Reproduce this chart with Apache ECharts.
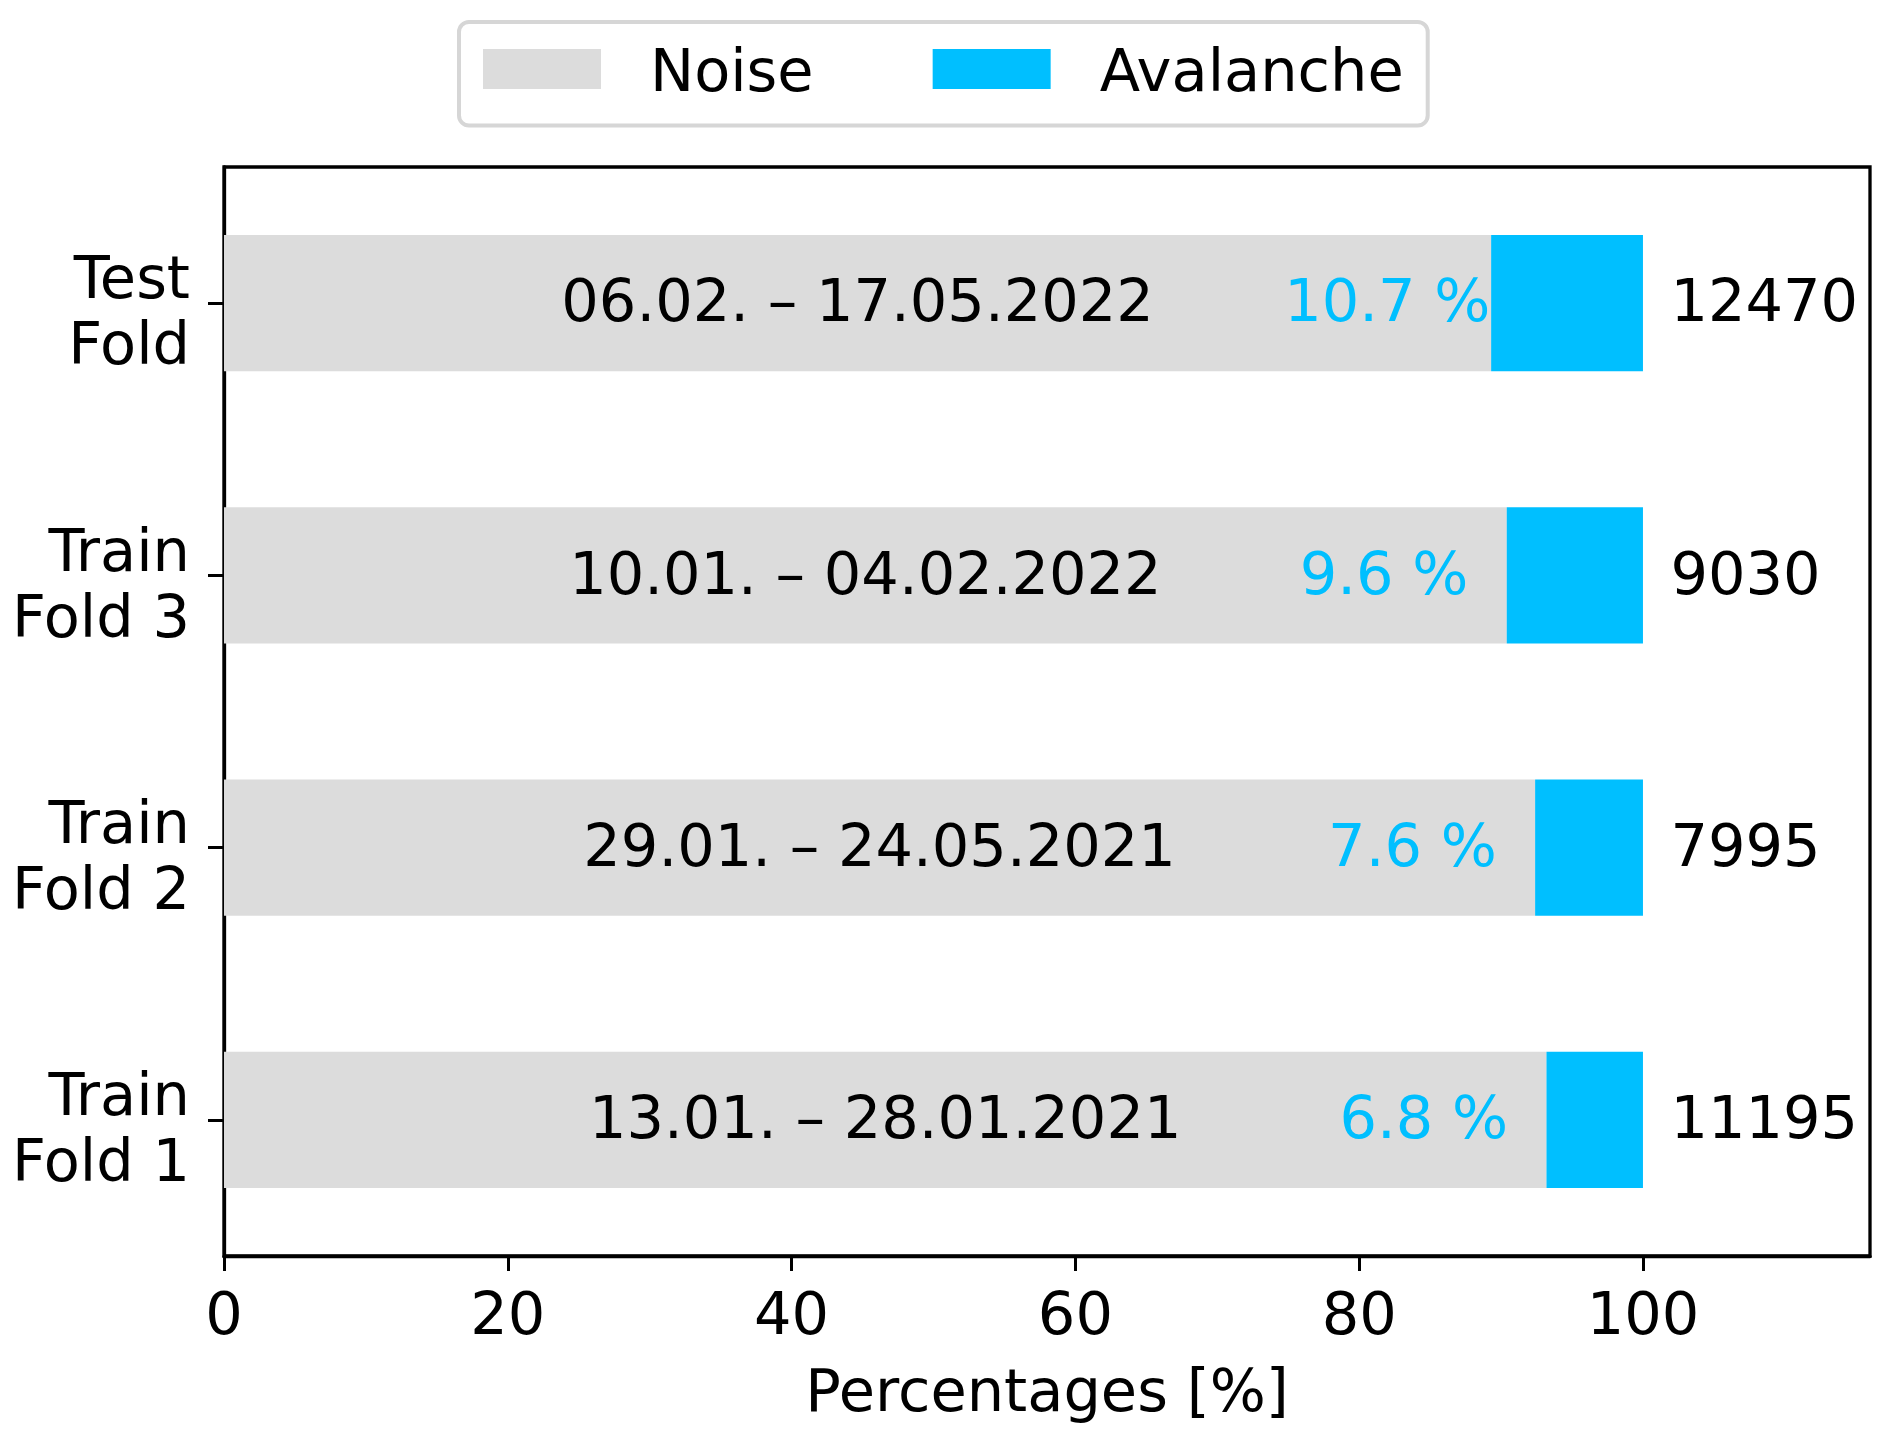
<!DOCTYPE html>
<html>
<head>
<meta charset="utf-8">
<script src="https://cdn.jsdelivr.net/npm/echarts@6/dist/echarts.min.js"></script>
<style>html,body{margin:0;padding:0;background:#fff;}#c{width:1892px;height:1444px;}</style>
</head>
<body>
<div id="c"></div>
<script>
const categories = ['Train\nFold 1', 'Train\nFold 2', 'Train\nFold 3', 'Test\nFold'];
const noise = [93.2, 92.4, 90.4, 89.3];
const avalanche = [6.8, 7.6, 9.6, 10.7];
const dateRanges = ['13.01. – 28.01.2021', '29.01. – 24.05.2021', '10.01. – 04.02.2022', '06.02. – 17.05.2022'];
const totals = [11195, 7995, 9030, 12470];
const xTicks = [0, 20, 40, 60, 80, 100];

const FONT = 'DejaVu Sans';
const FS = 59;
const chart = echarts.init(document.getElementById('c'), null, {renderer: 'canvas'});
chart.setOption({
  animation: false,
  textStyle: {fontFamily: FONT},
  legend: {
    data: ['Noise', 'Avalanche'],
    left: 459, top: 22,
    orient: 'horizontal',
    itemWidth: 118, itemHeight: 40, itemGap: 119,
    icon: 'rect',
    padding: [12, 24, 20, 24],
    borderColor: '#d6d6d6', borderWidth: 4, borderRadius: 10,
    backgroundColor: '#fff',
    formatter: name => '{s|}\n{t|' + name + '}',
    textStyle: {
      fontFamily: FONT, fontSize: FS, color: '#000', padding: [0, 0, 0, 44],
      rich: {
        s: {lineHeight: 14, fontSize: 10},
        t: {fontFamily: FONT, fontSize: FS, color: '#000', lineHeight: 60}
      }
    }
  },
  grid: {left: 224, right: 22, top: 167, bottom: 188, show: true, borderColor: '#000', borderWidth: 3.3, containLabel: false},
  xAxis: {
    type: 'value', min: 0, max: 116,
    name: 'Percentages [%]', nameLocation: 'middle', nameGap: 110,
    nameTextStyle: {fontFamily: FONT, fontSize: FS, color: '#000'},
    axisLine: {show: true, lineStyle: {color: '#000', width: 3.3}},
    axisTick: {show: true, length: 15, lineStyle: {color: '#000', width: 3}, customValues: xTicks},
    axisLabel: {fontFamily: FONT, fontSize: FS, color: '#000', margin: 33, customValues: xTicks},
    splitLine: {show: false}
  },
  yAxis: {
    type: 'category', data: categories,
    axisLine: {show: true, lineStyle: {color: '#000', width: 3.3}},
    axisTick: {show: true, alignWithLabel: true, length: 16, lineStyle: {color: '#000', width: 3}},
    axisLabel: {
      color: '#000', align: 'right', margin: 34,
      formatter: v => '{s|}\n' + v.split('\n').map(s => '{a|' + s + '}').join('\n'),
      rich: {
        s: {lineHeight: 26, fontSize: 10},
        a: {fontFamily: FONT, fontSize: FS, color: '#000', lineHeight: 66, align: 'right'}
      }
    },
    splitLine: {show: false}
  },
  series: [
    {
      name: 'Noise', type: 'bar', stack: 'a', barWidth: '50%', data: noise,
      itemStyle: {color: '#dcdcdc'},
      label: {show: true, position: 'inside', offset: [0, 3], fontFamily: FONT, fontSize: FS, color: '#000',
        formatter: p => dateRanges[p.dataIndex]}
    },
    {
      name: 'Avalanche', type: 'bar', stack: 'a', barWidth: '50%', data: avalanche,
      itemStyle: {color: '#00bfff'},
      label: {show: true, position: [-207, '50%'], offset: [0, 3], align: 'left', verticalAlign: 'middle',
        fontFamily: FONT, fontSize: FS, color: '#00bfff',
        formatter: p => p.value.toFixed(1) + ' %'}
    },
    {
      name: 'Total', type: 'scatter', symbolSize: 1,
      data: categories.map((c, i) => [noise[i] + avalanche[i], i]),
      itemStyle: {color: 'rgba(0,0,0,0)', opacity: 1},
      label: {show: true, position: 'right', distance: 27, offset: [0, 3], fontFamily: FONT, fontSize: FS, color: '#000',
        formatter: p => String(totals[p.dataIndex])},
      silent: true
    }
  ]
});
</script>
</body>
</html>
